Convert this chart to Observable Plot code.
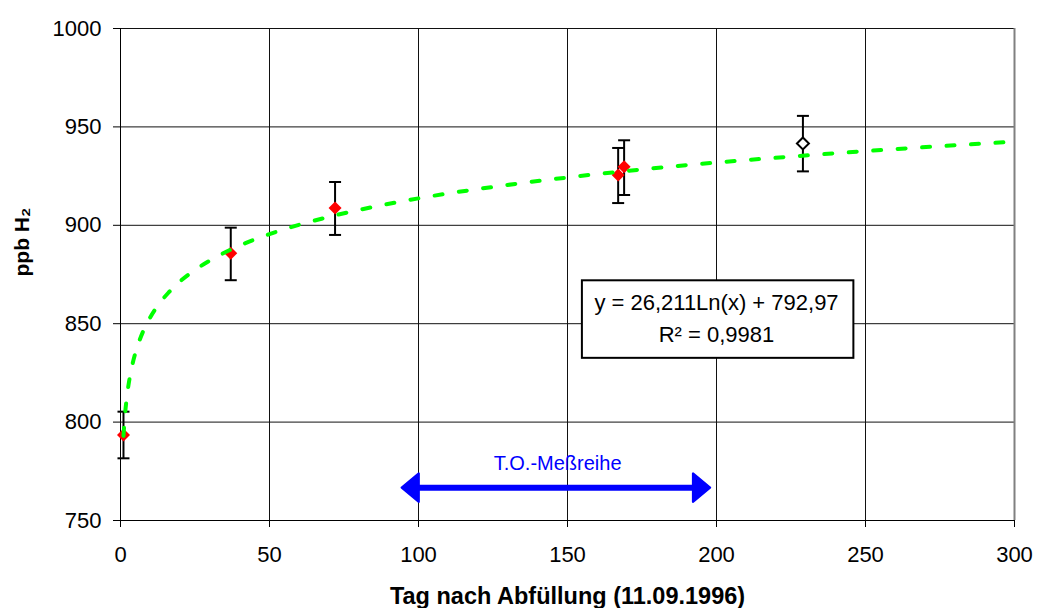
<!DOCTYPE html>
<html><head><meta charset="utf-8">
<script src="https://cdn.jsdelivr.net/npm/d3@7"></script>
<script src="https://cdn.jsdelivr.net/npm/@observablehq/plot@0.6"></script>
<style>body{margin:0;background:#fff}</style>
</head><body><div id="chart"></div>
<script>
// measured points (red diamonds)
const days = [1, 37, 72, 167, 169];
const h2 = [793.4, 885.8, 908.8, 925.6, 929.7];
const errLow = [781.6, 872.1, 895.1, 911.3, 915.4];
const errHigh = [805.3, 898.8, 922.0, 939.3, 943.2];
// open diamond point
const openDays = [229];
const openH2 = [941.6];
const openLow = [927.4];
const openHigh = [955.6];
// logarithmic trend line
const trendDays = [1, 1.5, 2, 3, 4, 5, 6, 8, 10, 13, 16, 20, 25, 30, 40, 50, 60, 70, 80, 100, 125, 150, 175, 200, 225, 250, 275, 300];
const trendH2 = [793.0, 803.6, 811.1, 821.8, 829.3, 835.2, 839.9, 847.5, 853.3, 860.2, 865.6, 871.5, 877.3, 882.1, 889.7, 895.5, 900.3, 904.3, 907.8, 913.7, 919.5, 924.3, 928.4, 931.9, 934.9, 937.7, 940.2, 942.5];
// axes
const xTicks = [0, 50, 100, 150, 200, 250, 300];
const yTicks = [750, 800, 850, 900, 950, 1000];
const xGrid = [50, 100, 150, 200, 250];
const yGrid = [800, 850, 900, 950, 1000];
const xTitle = "Tag nach Abfüllung (11.09.1996)";
const yTitle = "ppb H₂";
// equation box annotation
const eqLines = ["y = 26,211Ln(x) + 792,97", "R² = 0,9981"];
const eqLineX = [200, 200];
const eqLineY = [860.5, 844.4];
const eqBoxX = [155.0, 246.1];
const eqBoxY = [832.4, 871.8];
// range arrow annotation
const rangeLabel = "T.O.-Meßreihe";
const rangeX = [94.4, 197.8];
const rangeY = [766.7];
const rangeLabelX = [146.7];
const rangeLabelY = [778.9];

const pts = days.map((d, i) => ({day: d, v: h2[i], lo: errLow[i], hi: errHigh[i]}));
const openPts = openDays.map((d, i) => ({day: d, v: openH2[i], lo: openLow[i], hi: openHigh[i]}));
const allErr = pts.concat(openPts);
const trend = trendDays.map((d, i) => ({day: d, v: trendH2[i]}));
const caps = allErr.flatMap(p => [{day: p.day, v: p.lo}, {day: p.day, v: p.hi}]);
const eq = eqLines.map((t, i) => ({t, x: eqLineX[i], y: eqLineY[i]}));

const rOf = s => Math.sqrt(s / Math.PI);
const symDiamond = {draw(c, s) { const r = rOf(s); c.moveTo(0, -r); c.lineTo(r, 0); c.lineTo(0, r); c.lineTo(-r, 0); c.closePath(); }};
const symCap = {draw(c, s) { const r = rOf(s); c.moveTo(-r, 0); c.lineTo(r, 0); }};
const symHeadL = {draw(c, s) { const r = rOf(s); c.moveTo(0, 0); c.lineTo(1.2 * r, -r); c.lineTo(1.2 * r, r); c.closePath(); }};
const symHeadR = {draw(c, s) { const r = rOf(s); c.moveTo(0, 0); c.lineTo(-1.2 * r, -r); c.lineTo(-1.2 * r, r); c.closePath(); }};

const chart = Plot.plot({
  width: 1037,
  height: 608,
  marginLeft: 120,
  marginRight: 23,
  marginTop: 28,
  marginBottom: 88,
  style: {fontFamily: "'Liberation Sans', Arial, sans-serif", fontSize: "22px", background: "#fff", color: "#000"},
  x: {domain: [0, 300]},
  y: {domain: [750, 1000]},
  marks: [
    Plot.ruleX(xGrid, {stroke: "#111", strokeWidth: 1}),
    Plot.ruleY(yGrid, {stroke: "#111", strokeWidth: 1}),
    Plot.ruleX([300], {stroke: "#808080", strokeWidth: 2}),
    Plot.ruleX([0], {stroke: "#000", strokeWidth: 1}),
    Plot.ruleY([750], {stroke: "#000", strokeWidth: 1}),
    Plot.axisX({ticks: xTicks, tickSize: 7, tickPadding: 19, fontSize: 22, label: null, tickFormat: d => String(d)}),
    Plot.axisY({ticks: yTicks, tickSize: 7, tickPadding: 12, fontSize: 22, label: null, tickFormat: d => String(d)}),
    Plot.text([xTitle], {frameAnchor: "bottom", dy: 76, text: d => d, fontWeight: "bold", fontSize: 23.5, lineAnchor: "middle"}),
    Plot.text([yTitle], {frameAnchor: "left", dx: -98, dy: 2, rotate: -90, text: d => d, fontWeight: "bold", fontSize: 21, lineAnchor: "middle"}),
    // range arrow
    Plot.ruleY(rangeY, {x1: rangeX[0], x2: rangeX[1], stroke: "#0000ff", strokeWidth: 6, insetLeft: 10, insetRight: 10}),
    Plot.dot(rangeY, {x: rangeX[0], y: d => d, symbol: symHeadL, r: 14, fill: "#0000ff", stroke: "#0000ff", strokeWidth: 2.5, strokeLinejoin: "round"}),
    Plot.dot(rangeY, {x: rangeX[1], y: d => d, symbol: symHeadR, r: 14, fill: "#0000ff", stroke: "#0000ff", strokeWidth: 2.5, strokeLinejoin: "round"}),
    Plot.text([rangeLabel], {x: rangeLabelX[0], y: rangeLabelY[0], text: d => d, fill: "#0000ff", fontSize: 20, lineAnchor: "middle"}),
    // equation box
    Plot.rect([0], {x1: eqBoxX[0], x2: eqBoxX[1], y1: eqBoxY[0], y2: eqBoxY[1], fill: "#fff", stroke: "#000", strokeWidth: 2}),
    Plot.text(eq, {x: "x", y: "y", text: "t", fontSize: 22, lineAnchor: "middle", fill: "#000"}),
    // error bars
    Plot.link(allErr, {x1: "day", x2: "day", y1: "lo", y2: "hi", stroke: "#000", strokeWidth: 2}),
    Plot.dot(caps, {x: "day", y: "v", symbol: symCap, r: 6, fill: "none", stroke: "#000", strokeWidth: 2}),
    // points
    Plot.dot(pts, {x: "day", y: "v", symbol: symDiamond, r: 6.5, fill: "#ff0000", stroke: "none"}),
    Plot.dot(openPts, {x: "day", y: "v", symbol: symDiamond, r: 6, fill: "#fff", stroke: "#000", strokeWidth: 2}),
    // trend line
    Plot.line(trend, {x: "day", y: "v", stroke: "#00ff00", strokeWidth: 4, strokeDasharray: "8,16.5", curve: "monotone-x"})
  ]
});
document.getElementById("chart").appendChild(chart);
</script>
</body></html>
